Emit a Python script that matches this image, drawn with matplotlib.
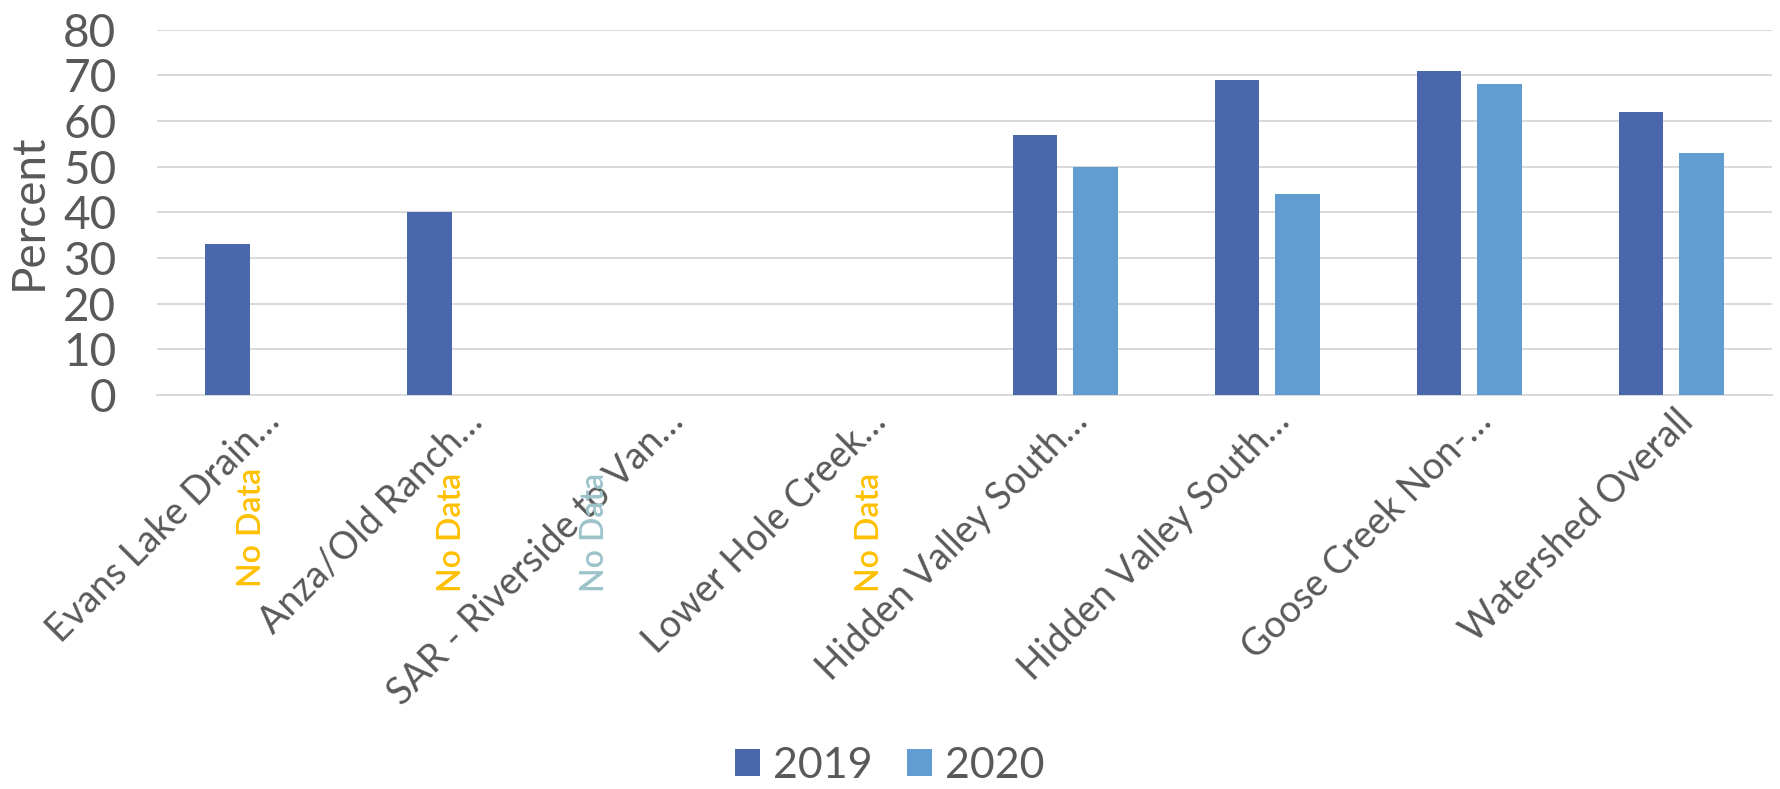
import numpy as np
import matplotlib.pyplot as plt
import matplotlib.transforms as mtransforms

# percent of sites per reach, by year (NaN = not sampled)
categories = ['Evans Lake Drain\u2026', 'Anza/Old Ranch\u2026', 'SAR - Riverside to Van\u2026',
              'Lower Hole Creek\u2026', 'Hidden Valley South\u2026', 'Hidden Valley South\u2026',
              'Goose Creek Non-\u2026', 'Watershed Overall']
pct_2019 = [33, 40, np.nan, np.nan, 57, 69, 71, 62]
pct_2020 = [np.nan, np.nan, np.nan, np.nan, 50, 44, 68, 53]

# "No Data" notes placed under the empty reaches
nodata_x = [-0.03, 0.96, 1.67, 3.03]
nodata_y = [-29, -30, -30, -30]
nodata_colors = ['#FFC000', '#FFC000', '#9DC3CB', '#FFC000']

c2019 = '#4A66AC'
c2020 = '#629DD1'
txt = '#595959'

plt.rcParams['font.family'] = ['Lato', 'DejaVu Sans']

fig = plt.figure(figsize=(17.81, 7.89), dpi=100)
ax = fig.add_axes([0.088, 0.4994, 0.907, 0.4632])

x = np.arange(len(categories))
w = 0.22
ax.bar(x - 0.15, pct_2019, w, color=c2019, label='2019', zorder=3)
ax.bar(x + 0.15, pct_2020, w, color=c2020, label='2020', zorder=3)

ax.set_xlim(-0.5, len(categories) - 0.5)
ax.set_ylim(0, 80)
ax.set_yticks(np.arange(0, 81, 10))
ax.grid(axis='y', color='#D9D9D9', linewidth=1.4, zorder=0)
for s in ['top', 'right', 'left']:
    ax.spines[s].set_visible(False)
ax.spines['bottom'].set_color('#D9D9D9')
ax.spines['bottom'].set_linewidth(1.4)
ax.tick_params(axis='both', length=0, colors=txt)
ax.tick_params(axis='y', labelsize=33, pad=29)

ax.set_xticks(x)
ax.set_xticklabels(categories, rotation=45, ha='right', va='top',
                   rotation_mode='anchor', fontsize=27, color=txt)
shift = mtransforms.ScaledTranslation(4 / 100, -3 / 100, fig.dpi_scale_trans)
for lab in ax.get_xticklabels():
    lab.set_transform(lab.get_transform() + shift)

ax.set_ylabel('Percent', fontsize=33, color=txt)
ax.yaxis.set_label_coords(-0.066, 0.5)

for xi, yi, col in zip(nodata_x, nodata_y, nodata_colors):
    ax.text(xi, yi, 'No Data', rotation=90, ha='center', va='center',
            fontsize=23, fontweight='semibold', color=col, clip_on=False)

fig.legend(loc='center', bbox_to_anchor=(890 / 1781, 1 - 766 / 789), ncol=2,
           frameon=False, fontsize=31, labelcolor=txt, handlelength=0.58,
           handleheight=0.58, handletextpad=0.3, columnspacing=0.8,
           borderaxespad=0)

fig.savefig('out.png', dpi=100)
